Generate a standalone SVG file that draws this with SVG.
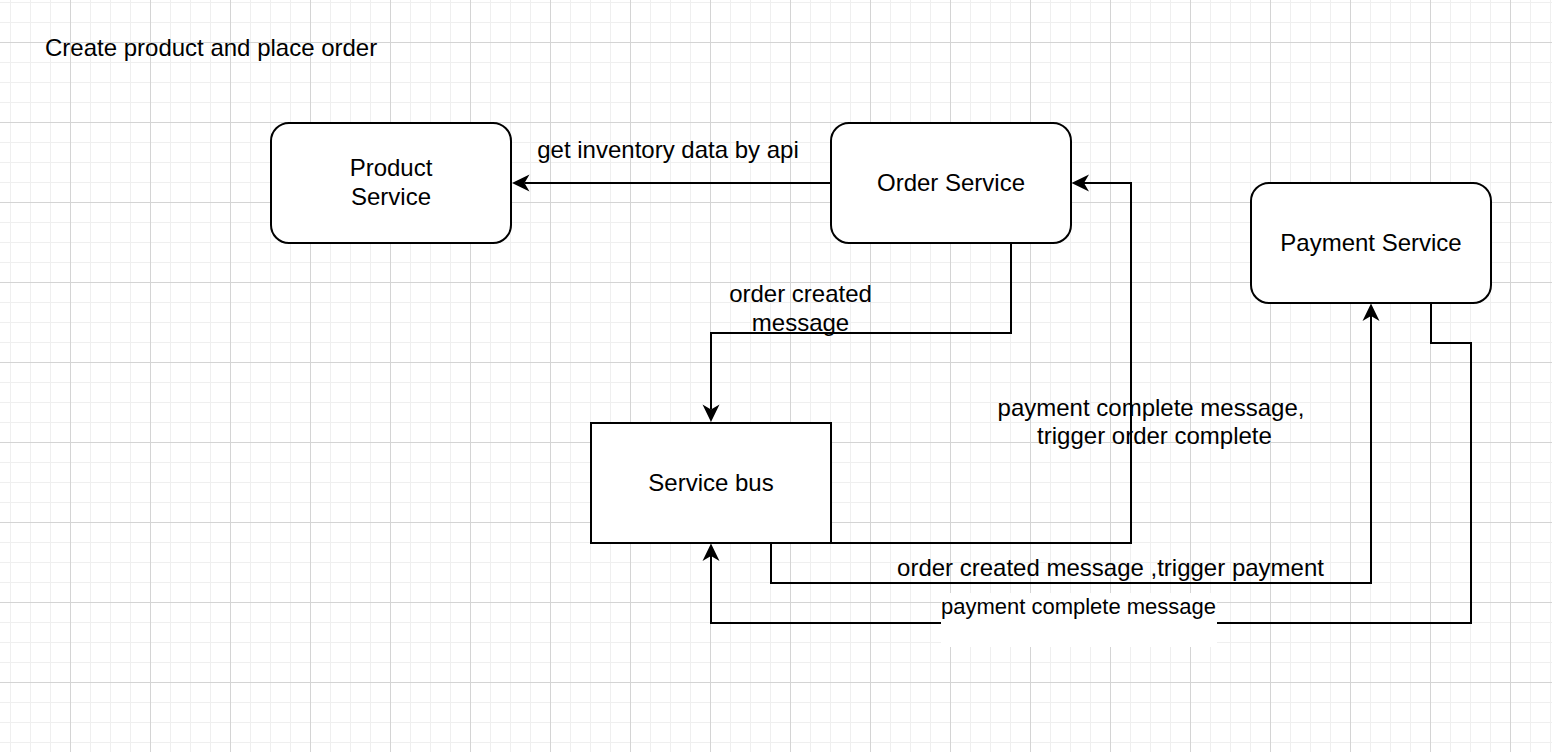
<svg xmlns="http://www.w3.org/2000/svg" width="1552" height="752" viewBox="0 0 1552 752">
  <style>
    text { font-family: "Liberation Sans", Arial, Helvetica, sans-serif; fill: #000; }
    .lbl { font-size: 24px; text-anchor: middle; }
    .elbl { font-size: 24px; text-anchor: middle; }
    .small { font-size: 22px; text-anchor: middle; }
    .node { fill: #fff; stroke: #000; stroke-width: 2; }
    .edge { fill: none; stroke: #000; stroke-width: 2; marker-end: url(#arrow); }
  </style>
  <defs>
    <pattern id="minor" patternUnits="userSpaceOnUse" x="10" y="2" width="20" height="20">
      <path d="M0.5,0 V20 M0,0.5 H20" stroke="#efefef" stroke-width="1" fill="none"/>
    </pattern>
    <pattern id="major" patternUnits="userSpaceOnUse" x="70" y="42" width="80" height="80">
      <path d="M0.5,0 V80 M0,0.5 H80" stroke="#d4d4d4" stroke-width="1" fill="none"/>
    </pattern>
    <marker id="arrow" markerUnits="userSpaceOnUse" orient="auto" overflow="visible" markerWidth="20" markerHeight="20" refX="0" refY="0">
      <path d="M12.5,0 L-5,-8.5 L0,0 L-5,8.5 Z" fill="#000"/>
    </marker>
  </defs>

  <rect width="1552" height="752" fill="#fff"/>
  <rect width="1552" height="752" fill="url(#minor)"/>
  <rect width="1552" height="752" fill="url(#major)"/>

  <g id="title">
    <text x="45" y="56" font-size="24">Create product and place order</text>
  </g>

  <g id="connectors">
    <path class="edge" d="M831,183 L524.5,183"/>
    <path class="edge" d="M1011,243 L1011,333 L711,333 L711,409.5"/>
    <path class="edge" d="M831,543 L1131,543 L1131,183 L1084,183"/>
    <path class="edge" d="M771,543 L771,583 L1371,583 L1371,316"/>
    <path class="edge" d="M1431,303 L1431,343 L1471,343 L1471,623 L711,623 L711,556"/>
    <text class="elbl" x="668" y="158">get inventory data by api</text>
    <text class="elbl" x="800.5" y="302">order created</text>
    <text class="elbl" x="800.5" y="330.5">message</text>
    <text class="elbl" x="1151" y="416">payment complete message,</text>
    <text class="elbl" x="1154.5" y="443.5">trigger order complete</text>
    <text class="elbl" x="1110.5" y="576">order created message ,trigger payment</text>
    <rect x="941" y="593" width="276" height="54" fill="#fff"/>
    <text class="small" x="1078.5" y="614">payment complete message</text>
  </g>

  <g id="product-service">
    <rect class="node" x="271" y="123" width="240" height="120" rx="18" ry="18"/>
    <text class="lbl" x="391" y="176">Product</text>
    <text class="lbl" x="391" y="205">Service</text>
  </g>

  <g id="order-service">
    <rect class="node" x="831" y="123" width="240" height="120" rx="18" ry="18"/>
    <text class="lbl" x="951" y="191">Order Service</text>
  </g>

  <g id="payment-service">
    <rect class="node" x="1251" y="183" width="240" height="120" rx="18" ry="18"/>
    <text class="lbl" x="1371" y="251">Payment Service</text>
  </g>

  <g id="service-bus">
    <rect class="node" x="591" y="423" width="240" height="120"/>
    <text class="lbl" x="711" y="491">Service bus</text>
  </g>
</svg>
